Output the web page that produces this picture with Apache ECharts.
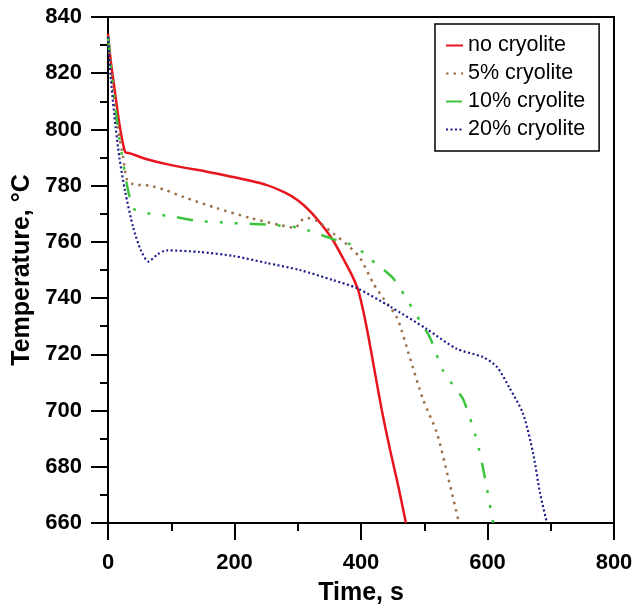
<!DOCTYPE html>
<html>
<head>
<meta charset="utf-8">
<script src="https://cdn.jsdelivr.net/npm/echarts@6/dist/echarts.min.js"></script>
<style>html,body{margin:0;padding:0;background:#fff;}#c{width:635px;height:608px;}</style>
</head>
<body>
<div id="c"></div>
<script>
var seriesNames = ['no cryolite', '5% cryolite', '10% cryolite', '20% cryolite'];
var noCryolite = [[0,834],[4,825],[10,815],[18,802],[27,792],[35,791.5],[60,789.5],[100,787.3],[160,784.8],[200,783],[250,780.3],[280,777.5],[300,774.8],[320,770.8],[340,765.5],[356,760.5],[372,754],[386,748],[396,742.5],[404,735],[412,726],[420,716],[433,700],[446,686],[460,672],[471,660]];
var cryolite5 = [[0,833],[8,815],[16,800],[24,790],[30,782],[40,780.5],[66,780],[90,778.5],[119,776],[172,772],[225,768.5],[272,766],[296,765],[305,767.5],[315,768.5],[330,767.5],[356,763],[378,759],[398,754.5],[420,745],[435,740],[457,733],[477,719],[498,704],[520,692],[538,676],[555,660]];
var cryolite10 = [[0,833],[8,815],[16,800],[24,788],[32,778],[40,772],[51,770.6],[103,769],[140,767.5],[198,766.7],[261,766],[303,765],[324,763.5],[356,761],[378,759.6],[394,758],[414,754],[451,747],[474,739],[493,732],[509,726],[530,714],[549,708],[562,703.8],[583,689.5],[596,676],[609,660]];
var cryolite20 = [[0,833],[3,822],[10,805],[18,790],[27,778],[40,765],[52,757],[64,753],[78,755.5],[93,757],[145,756.4],[198,755],[251,752.5],[303,750],[356,746.4],[394,743.5],[446,737],[504,729],[551,722],[593,719],[615,715.5],[635,708],[656,699],[672,685],[683,670.7],[694,660]];

var chart = echarts.init(document.getElementById('c'), null, {renderer: 'canvas'});
var font = '"Liberation Sans", Arial, sans-serif';
var labelStyle = {color: '#000', fontSize: 22, fontWeight: 'bold', fontFamily: font};
var nameStyle = {color: '#000', fontSize: 25, fontWeight: 'bold', fontFamily: font};
function mainAxis(extra) {
  return Object.assign({
    type: 'value',
    axisLine: {show: true, onZero: false, lineStyle: {color: '#000', width: 2}},
    axisTick: {show: true, inside: false, length: 17, lineStyle: {color: '#000', width: 2}},
    splitLine: {show: false},
    nameTextStyle: nameStyle
  }, extra);
}
function minorAxis(extra) {
  return Object.assign({
    type: 'value', gridIndex: 0,
    axisLine: {show: false, onZero: false},
    axisTick: {show: true, inside: false, length: 8, lineStyle: {color: '#000', width: 2}},
    axisLabel: {show: false},
    splitLine: {show: false}
  }, extra);
}
function mk(name, data, color, type, width) {
  return {
    name: name, type: 'line', data: data, showSymbol: false, symbol: 'none',
    smooth: 0.25, clip: true, xAxisIndex: 0, yAxisIndex: 0,
    lineStyle: {color: color, type: type, width: width},
    itemStyle: {color: color}
  };
}
chart.setOption({
  animation: false,
  backgroundColor: '#fff',
  grid: {left: 108, right: 21, top: 17, bottom: 85, containLabel: false, outerBoundsMode: 'none',
         show: true, borderColor: '#000', borderWidth: 2},
  legend: {
    orient: 'vertical', left: 435, top: 24,
    padding: [10, 14, 10, 10], itemGap: 5, itemWidth: 17, itemHeight: 10,
    borderColor: '#000', borderWidth: 1.5, backgroundColor: '#fff',
    itemStyle: {opacity: 0},
    textStyle: {color: '#000', fontSize: 21.5, fontFamily: font, lineHeight: 23},
    data: seriesNames
  },
  xAxis: [
    mainAxis({
      min: 0, max: 800, interval: 200, position: 'bottom',
      name: 'Time, s', nameLocation: 'middle', nameGap: 58,
      axisLabel: Object.assign({}, labelStyle, {margin: 29})
    }),
    minorAxis({min: 0, max: 800, interval: 100, position: 'bottom'})
  ],
  yAxis: [
    mainAxis({
      min: 660, max: 840, interval: 20, position: 'left',
      name: 'Temperature, °C', nameLocation: 'middle', nameGap: 68,
      axisLabel: Object.assign({}, labelStyle, {margin: 26})
    }),
    minorAxis({min: 660, max: 840, interval: 10, position: 'left'})
  ],
  series: [
    mk(seriesNames[0], noCryolite, '#e8141e', 'solid', 2.5),
    mk(seriesNames[1], cryolite5, '#9b7148', [2.5, 5], 2.5),
    mk(seriesNames[2], cryolite10, '#3cc43c', [16, 12, 3, 12, 3, 12, 3, 12], 2.5),
    mk(seriesNames[3], cryolite20, '#1c1c8e', [2, 2.5], 2.2)
  ]
});
</script>
</body>
</html>
